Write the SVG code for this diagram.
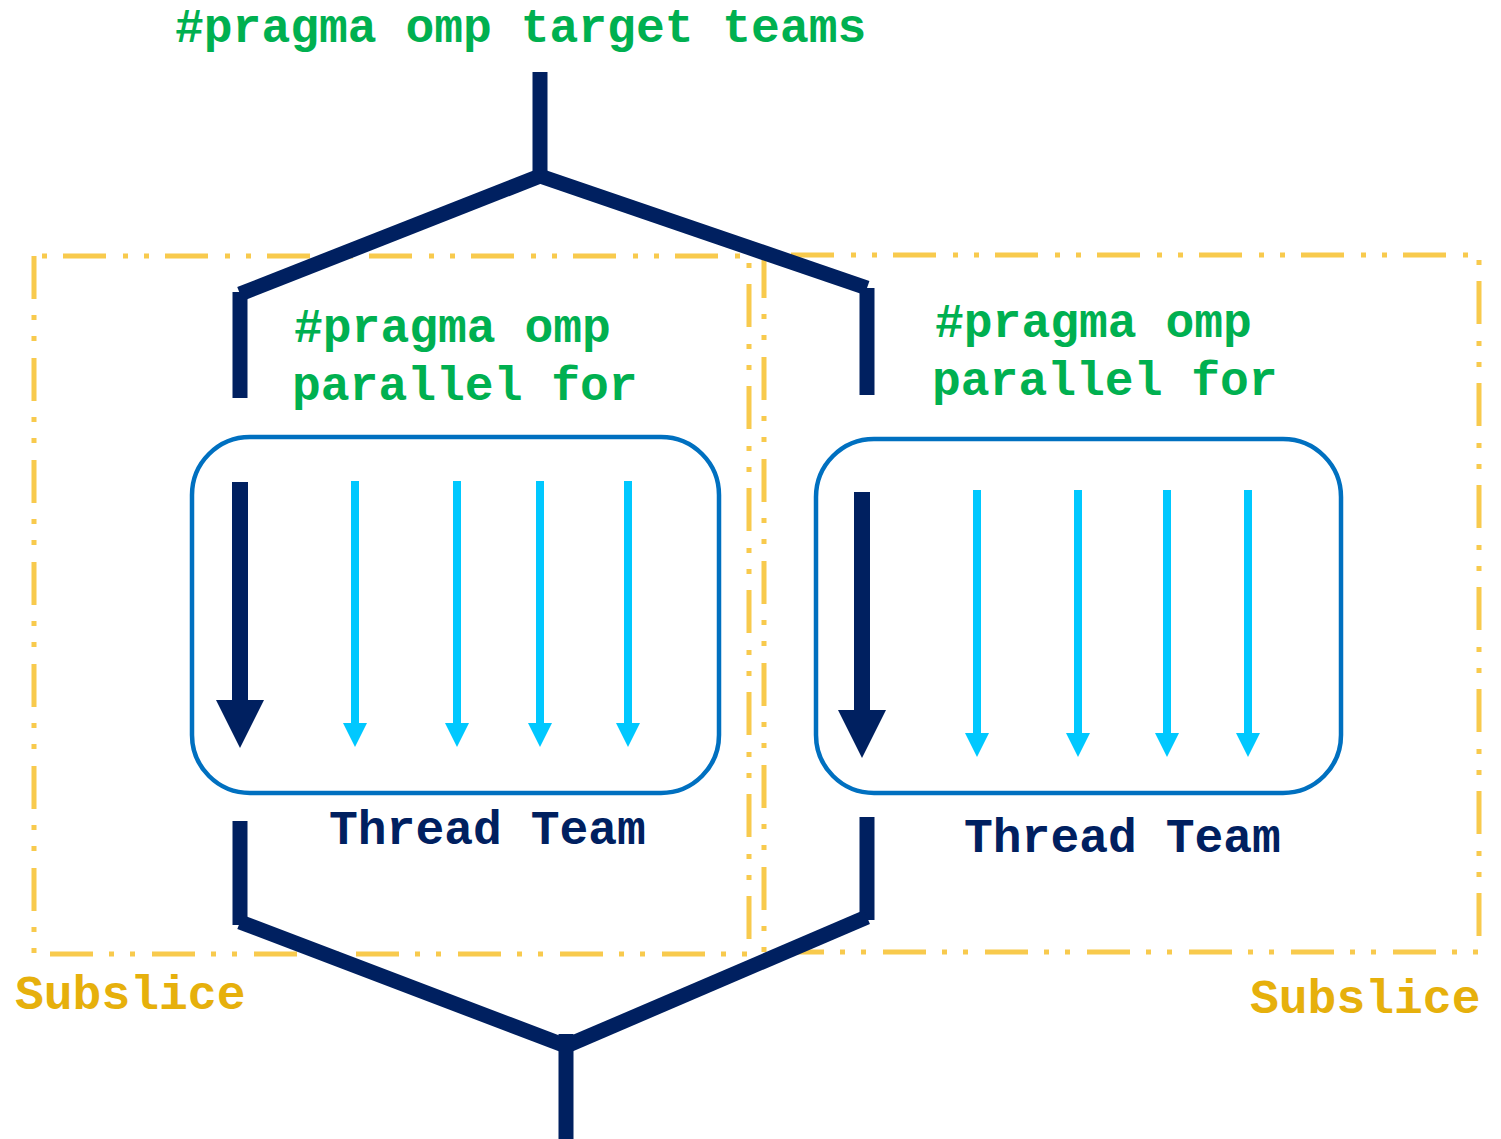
<svg xmlns="http://www.w3.org/2000/svg" width="1501" height="1139" viewBox="0 0 1501 1139">
  <defs>
    <style>
      .code { font-family: "Liberation Mono", "Courier New", monospace; font-weight: bold; font-size: 48px; }
      .green { fill: #00b050; }
      .navy-text { fill: #002060; }
      .gold-text { fill: #e6b00c; }
      .subslice { fill: none; stroke: #f8ca4d; stroke-width: 5; stroke-dasharray: 43 16 5 16 5 17; }
      .team { fill: none; stroke: #0070c0; stroke-width: 4.5; }
      .flow { stroke: #002060; stroke-width: 15; stroke-linecap: butt; fill: none; }
      .main-thread { stroke: #002060; stroke-width: 16; marker-end: url(#head-navy); }
      .worker { stroke: #00c8ff; stroke-width: 8; marker-end: url(#head-cyan); }
    </style>
    <marker id="head-navy" viewBox="0 0 3 3" refX="0" refY="1.5" markerWidth="3" markerHeight="3" orient="auto" markerUnits="strokeWidth">
      <path d="M0,0 L3,1.5 L0,3 Z" fill="#002060"/>
    </marker>
    <marker id="head-cyan" viewBox="0 0 3 3" refX="0" refY="1.5" markerWidth="3" markerHeight="3" orient="auto" markerUnits="strokeWidth">
      <path d="M0,0 L3,1.5 L0,3 Z" fill="#00c8ff"/>
    </marker>
  </defs>

  <rect width="1501" height="1139" fill="#ffffff"/>

  <!-- directive label -->
  <g id="target-teams">
    <text class="code green" x="175" y="42">#pragma omp target teams</text>
  </g>

  <!-- subslice regions -->
  <g id="subslice-left">
    <path class="subslice" d="M34,256 V954 H749 V256 Z"/>
    <text class="code gold-text" x="15" y="1009">Subslice</text>
  </g>
  <g id="subslice-right">
    <path class="subslice" d="M764,255 V952 H1479 V255 Z"/>
    <text class="code gold-text" x="1250" y="1013">Subslice</text>
  </g>

  <!-- fork/join flow -->
  <g id="connectors">
    <line class="flow" x1="540" y1="72" x2="540" y2="178"/>
    <line class="flow" x1="540" y1="176" x2="240" y2="294"/>
    <line class="flow" x1="240" y1="292" x2="240" y2="398"/>
    <line class="flow" x1="540" y1="176" x2="867" y2="288"/>
    <line class="flow" x1="867" y1="288" x2="867" y2="395"/>
    <line class="flow" x1="240" y1="821" x2="240" y2="925"/>
    <line class="flow" x1="240" y1="922" x2="566" y2="1046"/>
    <line class="flow" x1="867" y1="817" x2="867" y2="920"/>
    <line class="flow" x1="867" y1="917" x2="566" y2="1046"/>
    <line class="flow" x1="566" y1="1034" x2="566" y2="1139"/>
  </g>

  <!-- left team -->
  <g id="team-left">
    <text class="code green" x="294" y="342">#pragma omp</text>
    <text class="code green" x="292" y="400">parallel for</text>
    <rect class="team" x="192" y="437" width="527" height="356" rx="58" ry="58"/>
    <line class="main-thread" x1="240" y1="482" x2="240" y2="700"/>
    <line class="worker" x1="355" y1="481" x2="355" y2="723"/>
    <line class="worker" x1="457" y1="481" x2="457" y2="723"/>
    <line class="worker" x1="540" y1="481" x2="540" y2="723"/>
    <line class="worker" x1="628" y1="481" x2="628" y2="723"/>
    <text class="code navy-text" x="329" y="844">Thread Team</text>
  </g>

  <!-- right team -->
  <g id="team-right">
    <text class="code green" x="935" y="337">#pragma omp</text>
    <text class="code green" x="932" y="395">parallel for</text>
    <rect class="team" x="816" y="439" width="525" height="354" rx="58" ry="58"/>
    <line class="main-thread" x1="862" y1="492" x2="862" y2="710"/>
    <line class="worker" x1="977" y1="490" x2="977" y2="733"/>
    <line class="worker" x1="1078" y1="490" x2="1078" y2="733"/>
    <line class="worker" x1="1167" y1="490" x2="1167" y2="733"/>
    <line class="worker" x1="1248" y1="490" x2="1248" y2="733"/>
    <text class="code navy-text" x="964" y="852">Thread Team</text>
  </g>
</svg>
